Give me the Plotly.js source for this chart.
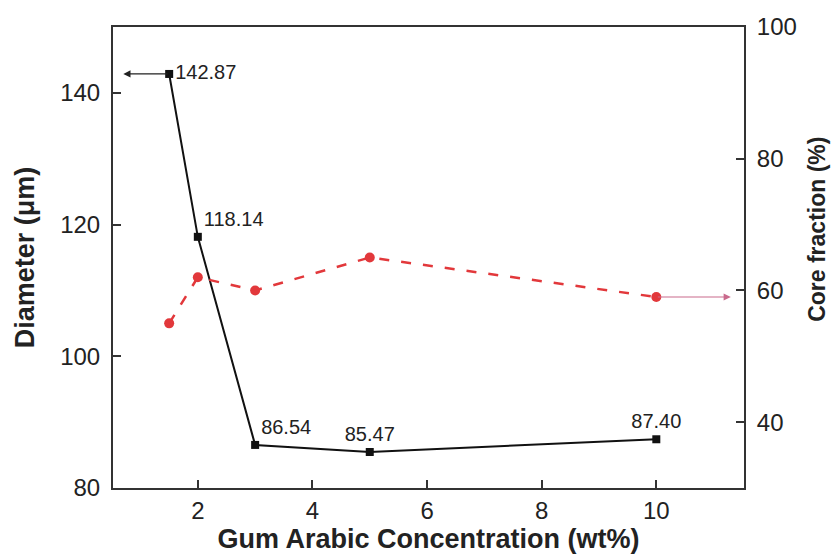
<!DOCTYPE html>
<html>
<head>
<meta charset="utf-8">
<script src="https://cdn.plot.ly/plotly-3.0.1.min.js"></script>
<style>html,body{margin:0;padding:0;background:#fff;}</style>
</head>
<body>
<div id="chart" style="width:832px;height:558px;"></div>
<script>
const concentration = [1.5, 2, 3, 5, 10];
const diameter = [142.87, 118.14, 86.54, 85.47, 87.40];
const diameterLabels = ['142.87', '118.14', '86.54', '85.47', '87.40'];
const coreFraction = [55, 62, 60, 65, 59];
const xTicks = [2, 4, 6, 8, 10];
const yTicks = [80, 100, 120, 140];
const y2Ticks = [40, 60, 80, 100];

const textColor = '#222';
const fontFamily = 'Liberation Sans, Arial, sans-serif';

const traces = [
  {
    x: concentration, y: diameter, yaxis: 'y',
    mode: 'lines+markers+text',
    text: diameterLabels,
    textposition: ['middle right', 'top right', 'top right', 'top center', 'top center'],
    textfont: {size: 20, color: textColor, family: fontFamily},
    line: {color: '#111', width: 2},
    marker: {symbol: 'square', size: 8, color: '#111'},
    cliponaxis: false,
    hoverinfo: 'x+y'
  },
  {
    x: concentration, y: coreFraction, yaxis: 'y2',
    mode: 'lines+markers',
    line: {color: '#e2383b', width: 2.5, dash: '10px,12px'},
    marker: {symbol: 'circle', size: 10, color: '#e2383b'},
    hoverinfo: 'x+y'
  }
];

const layout = {
  width: 832, height: 558,
  margin: {l: 113, r: 88, t: 27, b: 70},
  paper_bgcolor: '#fff', plot_bgcolor: '#fff',
  showlegend: false,
  font: {family: fontFamily, color: textColor},
  xaxis: {
    range: [0.52, 11.53], tickvals: xTicks,
    ticks: 'inside', ticklen: 8, tickwidth: 2, tickcolor: '#333',
    showline: true, linewidth: 2, linecolor: '#333', mirror: true,
    showgrid: false, zeroline: false,
    tickfont: {size: 24, color: textColor},
    ticklabelstandoff: 0,
    title: {text: 'Gum Arabic Concentration (wt%)', font: {size: 27, color: textColor, weight: 'bold'}, standoff: 2}
  },
  yaxis: {
    range: [80, 150], tickvals: yTicks,
    ticks: 'inside', ticklen: 8, tickwidth: 2, tickcolor: '#333',
    showline: true, linewidth: 2, linecolor: '#333',
    showgrid: false, zeroline: false,
    tickfont: {size: 24, color: textColor},
    ticklabelstandoff: 6,
    title: {text: 'Diameter (μm)', font: {size: 27, color: textColor, weight: 'bold'}, standoff: 18}
  },
  yaxis2: {
    range: [30, 100], tickvals: y2Ticks,
    overlaying: 'y', side: 'right',
    ticks: 'inside', ticklen: 8, tickwidth: 2, tickcolor: '#333',
    showline: true, linewidth: 2, linecolor: '#333',
    showgrid: false, zeroline: false,
    tickfont: {size: 24, color: textColor},
    ticklabelstandoff: 6
  },
  annotations: [
    {
      x: 0.7, y: diameter[0], xref: 'x', yref: 'y',
      ax: concentration[0], ay: diameter[0], axref: 'x', ayref: 'y',
      showarrow: true, arrowhead: 2, arrowsize: 1.2, arrowwidth: 1.2, arrowcolor: '#222', text: ''
    },
    {
      x: 11.3, y: coreFraction[4], xref: 'x', yref: 'y2',
      ax: concentration[4], ay: coreFraction[4], axref: 'x', ayref: 'y2',
      showarrow: true, arrowhead: 2, arrowsize: 1.2, arrowwidth: 1.2, arrowcolor: '#c96a8c', text: ''
    },
    {
      text: 'Core fraction (%)', xref: 'paper', yref: 'paper',
      x: 1, y: 0.56, xanchor: 'center', yanchor: 'middle', xshift: 73,
      textangle: -90, showarrow: false,
      font: {size: 23, color: textColor, weight: 'bold'}
    }
  ]
};

Plotly.newPlot('chart', traces, layout, {displayModeBar: false, staticPlot: true});
</script>
</body>
</html>
